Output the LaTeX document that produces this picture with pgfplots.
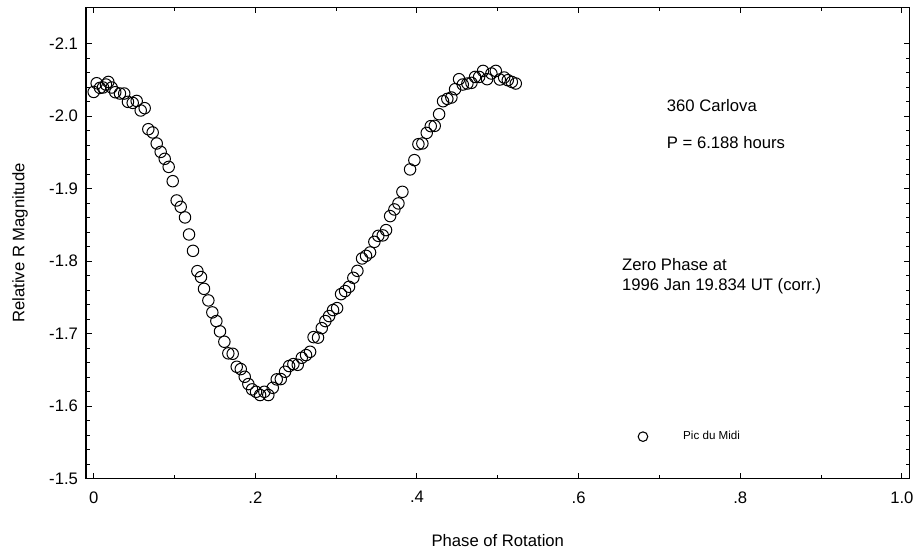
\documentclass[border=0pt]{standalone}
\usepackage{fontspec}
\setmainfont{Liberation Sans}
\usepackage{pgfplots}
\pgfplotsset{compat=1.18}

\pgfplotstableread{
phase mag
0.0000 -2.0335
0.0037 -2.0455
0.0078 -2.0391
0.0115 -2.0396
0.0152 -2.0437
0.0181 -2.0473
0.0222 -2.0396
0.0267 -2.0331
0.0325 -2.0313
0.0378 -2.0313
0.0424 -2.0198
0.0483 -2.0184
0.0532 -2.0211
0.0582 -2.0079
0.0631 -2.0111
0.0676 -1.9821
0.0730 -1.9776
0.0780 -1.9624
0.0829 -1.9508
0.0879 -1.9412
0.0928 -1.9301
0.0978 -1.9104
0.1027 -1.8838
0.1077 -1.8750
0.1130 -1.8604
0.1180 -1.8369
0.1229 -1.8143
0.1283 -1.7863
0.1328 -1.7781
0.1365 -1.7619
0.1419 -1.7459
0.1468 -1.7294
0.1518 -1.7174
0.1563 -1.7032
0.1617 -1.6889
0.1666 -1.6729
0.1720 -1.6723
0.1770 -1.6544
0.1820 -1.6512
0.1869 -1.6406
0.1914 -1.6305
0.1960 -1.6232
0.2009 -1.6199
0.2059 -1.6154
0.2112 -1.6199
0.2161 -1.6154
0.2216 -1.6254
0.2265 -1.6370
0.2315 -1.6374
0.2368 -1.6475
0.2418 -1.6554
0.2471 -1.6581
0.2525 -1.6571
0.2575 -1.6668
0.2628 -1.6705
0.2678 -1.6751
0.2721 -1.6953
0.2776 -1.6946
0.2822 -1.7077
0.2867 -1.7174
0.2913 -1.7243
0.2962 -1.7326
0.3012 -1.7353
0.3061 -1.7546
0.3111 -1.7588
0.3160 -1.7647
0.3213 -1.7771
0.3263 -1.7867
0.3321 -1.8038
0.3370 -1.8074
0.3420 -1.8121
0.3473 -1.8267
0.3522 -1.8350
0.3577 -1.8356
0.3618 -1.8429
0.3668 -1.8622
0.3721 -1.8714
0.3771 -1.8797
0.3820 -1.8957
0.3915 -1.9266
0.3968 -1.9394
0.4018 -1.9614
0.4067 -1.9624
0.4121 -1.9770
0.4171 -1.9863
0.4220 -1.9867
0.4274 -2.0028
0.4323 -2.0207
0.4376 -2.0239
0.4426 -2.0258
0.4472 -2.0373
0.4521 -2.0511
0.4567 -2.0437
0.4624 -2.0451
0.4674 -2.0460
0.4719 -2.0542
0.4769 -2.0542
0.4818 -2.0625
0.4868 -2.0511
0.4921 -2.0589
0.4976 -2.0625
0.5025 -2.0506
0.5079 -2.0534
0.5124 -2.0497
0.5174 -2.0473
0.5223 -2.0451
}\carlova

\begin{document}
\begin{tikzpicture}
\begin{axis}[
    scale only axis,
    width=617.6pt, height=353.4pt,
    xmin=-0.0095, xmax=1.0095,
    ymin=-2.15, ymax=-1.5,
    y dir=reverse,
    axis line style={line width=1pt},
    every tick/.style={black, line width=0.7pt},
    major tick length=4.5pt, minor tick length=3pt,
    xtick={0,0.2,0.4,0.6,0.8,1.0},
    xticklabels={0,.2,.4,.6,.8,1.0},
    minor x tick num=1,
    ytick={-2.1,-2.0,-1.9,-1.8,-1.7,-1.6,-1.5},
    yticklabels={-2.1,-2.0,-1.9,-1.8,-1.7,-1.6,-1.5},
    minor y tick num=4,
    tick label style={font=\fontsize{12.5}{14}\selectfont},
    xticklabel style={yshift=-6pt},
    yticklabel style={xshift=-2.5pt},
    xlabel={Phase of Rotation},
    ylabel={Relative R Magnitude},
    label style={font=\fontsize{12.5}{14}\selectfont},
    xlabel style={at={(axis description cs:0.5,-0.1302)}, anchor=center},
    ylabel style={at={(axis description cs:-0.0801,0.5)}, anchor=center},
    legend style={at={(axis cs:0.68,-1.558)}, anchor=west, xshift=-4.2pt,
        draw=none, fill=none, inner sep=0pt, outer sep=0pt,
        font=\fontsize{8.7}{10}\selectfont},
    legend image code/.code={\draw[black, line width=0.8pt] (0pt,0pt) circle (3.6pt); \path (28pt,0pt);},
]
\addplot[only marks, mark=o, mark size=4.3pt, mark options={black, line width=0.75pt}]
    table[x=phase, y=mag] {\carlova};
\addlegendentry{Pic du Midi}

\node[anchor=west, inner sep=0pt, font=\fontsize{12.5}{14}\selectfont] at (axis cs:0.709,-2.015) {360 Carlova};
\node[anchor=west, inner sep=0pt, font=\fontsize{12.5}{14}\selectfont] at (axis cs:0.709,-1.963) {P = 6.188 hours};
\node[anchor=west, inner sep=0pt, font=\fontsize{12.5}{14}\selectfont] at (axis cs:0.6535,-1.796) {Zero Phase at};
\node[anchor=west, inner sep=0pt, font=\fontsize{12.5}{14}\selectfont] at (axis cs:0.6535,-1.7657) {1996 Jan 19.834 UT (corr.)};
\end{axis}
\pgfresetboundingbox
\path[use as bounding box] ([xshift=-64.5pt, yshift=-55pt]current axis.south west)
    rectangle ([xshift=4.1pt, yshift=5.6pt]current axis.north east);
\end{tikzpicture}
\end{document}
